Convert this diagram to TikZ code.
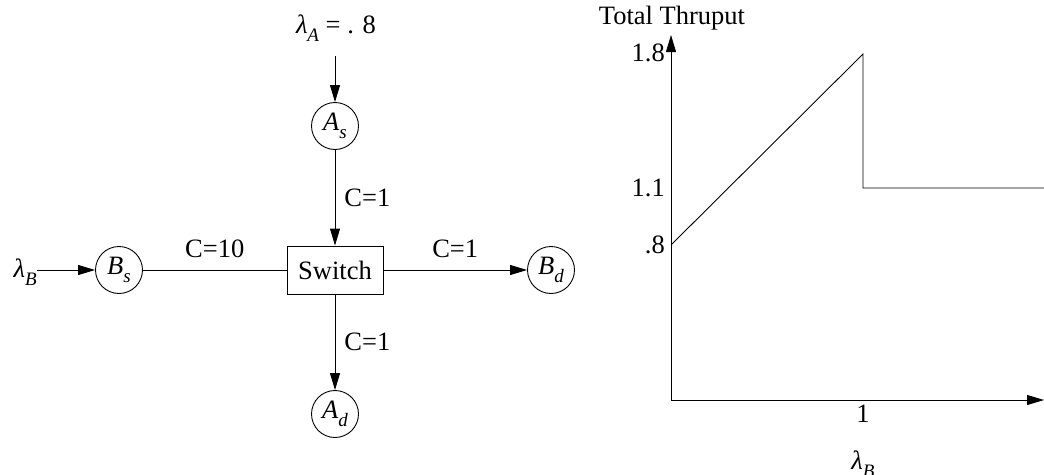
\documentclass[tikz,border=0pt]{standalone}
\usepackage{fontspec}
\setmainfont{Liberation Serif}
\usetikzlibrary{arrows.meta}
\newcommand{\mysub}[1]{\raisebox{-0.28em}{\fontsize{19}{19}\selectfont\itshape #1}}
\newcommand{\lam}{{\itshape λ}}
\begin{document}
\begin{tikzpicture}[x=1pt,y=-1pt,
  every node/.style={font=\fontsize{26.5}{30}\selectfont},
  station/.style={draw,circle,line width=0.9pt,minimum size=47pt,inner sep=0pt},
  switchbox/.style={draw,rectangle,line width=0.9pt,minimum width=96pt,minimum height=48pt,inner sep=0pt},
  conn/.style={line width=0.9pt},
  arr/.style={line width=0.9pt,-{Triangle[length=17pt,width=10pt]}},
  lbl/.style={inner sep=0pt}]
\useasboundingbox (0,0) rectangle (1044,474);
% network
\node[lbl] (lamA) at (336,28) {\lam\mysub{A} = . 8};
\node[station] (As) at (335,126) {{\itshape A}\mysub{s}};
\node[switchbox] (sw) at (335,270) {Switch};
\node[station] (Bs) at (119,270) {{\itshape B}\mysub{s}};
\node[station] (Bd) at (551,270) {{\itshape B}\mysub{d}};
\node[station] (Ad) at (335,414) {{\itshape A}\mysub{d}};
\node[lbl,anchor=east] (lamB) at (37,272) {\lam\mysub{B}};
\coordinate (la) at ([yshift=-15pt]lamA.south -| As.north);
\draw[arr] (la) -- (As.north);
\draw[arr] (As.south) -- node[lbl,right=9pt] (c1) {C=1} (sw.north);
\draw[arr] (lamB.east |- Bs.west) -- (Bs.west);
\draw[conn] (Bs.east) -- node[lbl,above=12pt] (c10) {C=10} (sw.west);
\draw[arr] (sw.east) -- node[lbl,above=12pt] (c2) {C=1} (Bd.west);
\draw[arr] (sw.south) -- node[lbl,right=9pt] (c3) {C=1} (Ad.north);
% graph
\coordinate (O) at (671,400);
\coordinate (ytop) at (671,35);
\coordinate (xend) at (1044,400);
\coordinate (p0) at (671,245);
\coordinate (p1) at (863,54);
\coordinate (p2) at (863,188);
\coordinate (p3) at (1044,188);
\draw[arr] (O) -- (ytop);
\draw[arr] (O) -- (xend);
\draw[line width=0.9pt] (p0) -- (p1) -- (p2) -- (p3);
\node[lbl,anchor=south] (title) at (672,30) {Total Thruput};
\node[lbl,anchor=east] (t18) at (665,53) {1.8};
\node[lbl,anchor=east] (t11) at (665,188) {1.1};
\node[lbl,anchor=east] (t08) at (665,245) {.8};
\node[lbl] (x1) at (863,414) {1};
\node[lbl] (xl) at (863,464) {\lam\mysub{B}};
\end{tikzpicture}
\end{document}
